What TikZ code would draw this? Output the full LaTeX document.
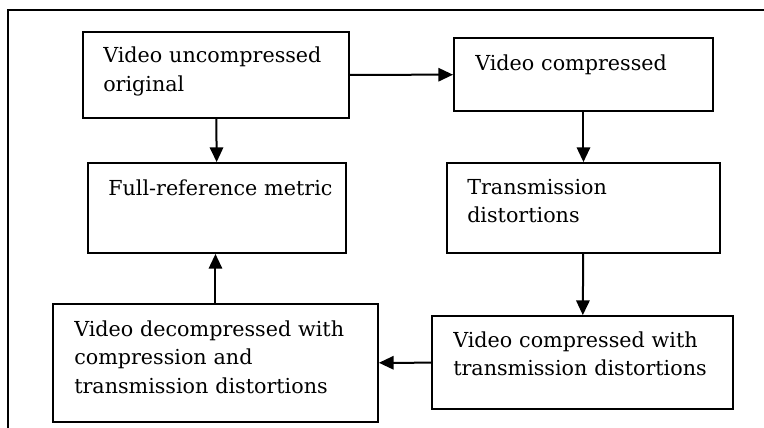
\documentclass[tikz,border=0pt]{standalone}
\usepackage{fontspec}
\setmainfont{DejaVu Serif}
\usepackage{tikz}
\usetikzlibrary{arrows.meta,positioning,calc}
\tikzset{
	box/.style={draw, line width=1.4pt, inner sep=0pt},
	arrow/.style={-{Triangle[length=11pt,width=10pt]}, line width=1.5pt},
	boxtext/.style={anchor=base west, inner sep=0pt, text width=#1, align=left,
		font=\fontsize{15.5}{21.5}\selectfont}
}

\begin{document}
\begin{tikzpicture}[x=1pt, y=1pt]
	\useasboundingbox (0,0) rectangle (573,-321);
	
	%% ── Frame ───────────────────────────────────────────────────────
	\draw[line width=1.4pt] (6,-321) -- (6,-7.5) -- (573,-7.5);
	
	%% ── Left column ─────────────────────────────────────────────────
	\node[box, minimum width=199.5pt, minimum height=64.5pt] (orig) at (162,-56.25) {};
	\node[boxtext=180pt] (origtxt) at (77.25,-47.25) {Video uncompressed\\original};
	
	\node[box, minimum width=193.5pt, minimum height=67.5pt] (metric) at (162.75,-156) {};
	\node[boxtext=180pt] (metrictxt) at (81,-146.25) {Full-reference metric};
	
	\node[box, minimum width=243.75pt, minimum height=88.5pt] (decomp) at (161.6,-272.25) {};
	\node[boxtext=225pt] (decomptxt) at (55.5,-252) {Video decompressed with\\compression and\\transmission distortions};
	
	%% ── Right column ────────────────────────────────────────────────
	\node[box, minimum width=194.25pt, minimum height=54.75pt] (comp) at (437.6,-55.9) {};
	\node[boxtext=180pt] (comptxt) at (356.25,-52.5) {Video compressed};
	
	\node[box, minimum width=204.75pt, minimum height=67.5pt] (trans) at (437.6,-156) {};
	\node[boxtext=180pt] (transtxt) at (350.25,-145.5) {Transmission\\distortions};
	
	\node[box, minimum width=225.75pt, minimum height=69.75pt] (comptrans) at (436.9,-271.9) {};
	\node[boxtext=212pt] (comptranstxt) at (339.75,-260.25) {Video compressed with\\transmission distortions};
	
	%% ── Flow arrows ─────────────────────────────────────────────────
	\draw[arrow] (orig) -- (comp);
	\draw[arrow] (orig) -- (metric);
	\draw[arrow] (comp) -- (trans);
	\draw[arrow] (trans) -- (comptrans);
	\draw[arrow] (comptrans) -- (decomp);
	\draw[arrow] (decomp.north) -- (decomp.north |- metric.south);
\end{tikzpicture}
\end{document}
